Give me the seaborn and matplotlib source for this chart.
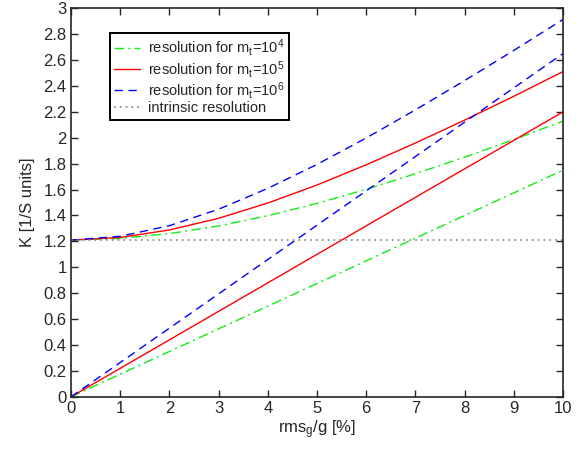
import matplotlib
matplotlib.use("Agg")
import matplotlib.pyplot as plt
import seaborn as sns
import pandas as pd

# rms_g/g [%]
x = [0, 1, 2, 3, 4, 5, 6, 7, 8, 9, 10]

# m_t = 1e4 (green, dash-dot)
k4_low = [0.0, 0.175, 0.35, 0.525, 0.70, 0.875, 1.05, 1.225, 1.40, 1.575, 1.75]
k4_up = [1.21, 1.223, 1.260, 1.319, 1.398, 1.493, 1.602, 1.722, 1.850, 1.986, 2.128]
# m_t = 1e5 (red, solid)
k5_low = [0.0, 0.22, 0.44, 0.66, 0.88, 1.10, 1.32, 1.54, 1.76, 1.98, 2.20]
k5_up = [1.21, 1.230, 1.288, 1.378, 1.496, 1.635, 1.791, 1.959, 2.136, 2.320, 2.511]
# m_t = 1e6 (blue, dashed)
k6_low = [0.0, 0.265, 0.53, 0.795, 1.06, 1.325, 1.59, 1.855, 2.12, 2.385, 2.65]
k6_up = [1.21, 1.239, 1.321, 1.448, 1.609, 1.794, 1.998, 2.215, 2.441, 2.674, 2.913]
# intrinsic resolution
k_intr = [1.21] * len(x)

labels = ['resolution for m$_{\\mathregular{t}}$=10$^{\\mathregular{4}}$',
          'resolution for m$_{\\mathregular{t}}$=10$^{\\mathregular{5}}$',
          'resolution for m$_{\\mathregular{t}}$=10$^{\\mathregular{6}}$',
          'intrinsic resolution']

sns.set_style("ticks")
plt.rcParams['font.family'] = ['Liberation Sans', 'DejaVu Sans']
plt.rcParams['mathtext.fontset'] = 'custom'
plt.rcParams['mathtext.rm'] = 'Liberation Sans'
plt.rcParams['mathtext.it'] = 'Liberation Sans:italic'
plt.rcParams['xtick.direction'] = 'in'
plt.rcParams['ytick.direction'] = 'in'

fig = plt.figure(figsize=(5.86, 4.5), dpi=100)
ax = fig.add_axes([0.121, 0.118, 0.840, 0.864])

df = pd.DataFrame({'x': x, 'k4l': k4_low, 'k4u': k4_up, 'k5l': k5_low, 'k5u': k5_up,
                   'k6l': k6_low, 'k6u': k6_up, 'ki': k_intr})

green = '#11ee11'
red = '#ff0000'
blue = '#0000ff'
grey = '#808080'

sns.lineplot(data=df, x='x', y='k4u', ax=ax, color=green, lw=1.0)
sns.lineplot(data=df, x='x', y='k4l', ax=ax, color=green, lw=1.0)
sns.lineplot(data=df, x='x', y='k5u', ax=ax, color=red, lw=1.0)
sns.lineplot(data=df, x='x', y='k5l', ax=ax, color=red, lw=1.0)
sns.lineplot(data=df, x='x', y='k6u', ax=ax, color=blue, lw=1.0)
sns.lineplot(data=df, x='x', y='k6l', ax=ax, color=blue, lw=1.0)
sns.lineplot(data=df, x='x', y='ki', ax=ax, color=grey, lw=1.2)

lines = ax.lines
# order: k4u, k4l, k5u, k5l, k6u, k6l, ki
for ln in lines[0:2]:
    ln.set_dashes([7, 3, 1.5, 3])
for ln in lines[4:6]:
    ln.set_dashes([6, 4])
lines[6].set_dashes([1, 2.5])

ax.set_xlim(0, 10)
ax.set_ylim(0, 3)
ax.set_xticks(range(0, 11))
ax.set_yticks([i * 0.2 for i in range(16)])
ax.set_yticklabels(['0', '0.2', '0.4', '0.6', '0.8', '1', '1.2', '1.4', '1.6', '1.8',
                    '2', '2.2', '2.4', '2.6', '2.8', '3'])
ax.tick_params(axis='both', which='both', labelsize=12, top=True, right=True,
               length=5, width=1, pad=3)
for s in ax.spines.values():
    s.set_linewidth(1.2)
    s.set_visible(True)

ax.set_xlabel('rms$_{\\mathregular{g}}$/g [%]', fontsize=12, labelpad=2)
ax.set_ylabel('K [1/S units]', fontsize=12, labelpad=6)

leg = ax.legend(handles=[lines[0], lines[2], lines[4], lines[6]], labels=labels,
                loc='upper left', bbox_to_anchor=(0.079, 0.936), borderaxespad=0,
                fancybox=False, framealpha=1, edgecolor='black', fontsize=10.5,
                handlelength=1.8, labelspacing=0.02, borderpad=0.3,
                handletextpad=0.5)
leg.get_frame().set_linewidth(1.4)

fig.savefig('out.png', dpi=100)
